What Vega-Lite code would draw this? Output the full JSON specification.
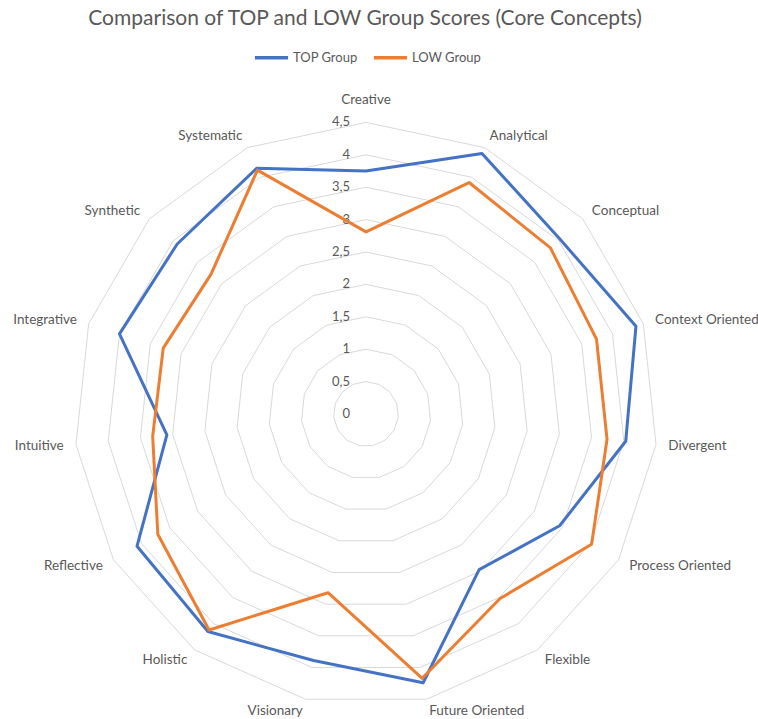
{
  "$schema": "https://vega.github.io/schema/vega-lite/v6.json",
  "width": 758,
  "height": 719,
  "autosize": "none",
  "padding": 0,
  "background": "white",
  "title": {
    "text": "Comparison of TOP and LOW Group Scores (Core Concepts)",
    "orient": "top",
    "anchor": "middle",
    "frame": "group",
    "offset": -29,
    "dx": -14,
    "font": "Lato",
    "fontSize": 21,
    "fontWeight": "normal",
    "color": "#595959"
  },
  "data": {
    "values": [
      {"concept": "Creative", "TOP Group": 3.75, "LOW Group": 2.81},
      {"concept": "Analytical", "TOP Group": 4.40, "LOW Group": 3.91},
      {"concept": "Conceptual", "TOP Group": 4.03, "LOW Group": 3.83},
      {"concept": "Context Oriented", "TOP Group": 4.38, "LOW Group": 3.74},
      {"concept": "Divergent", "TOP Group": 4.03, "LOW Group": 3.74},
      {"concept": "Process Oriented", "TOP Group": 3.45, "LOW Group": 4.02},
      {"concept": "Flexible", "TOP Group": 2.97, "LOW Group": 3.52},
      {"concept": "Future Oriented", "TOP Group": 4.24, "LOW Group": 4.17},
      {"concept": "Visionary", "TOP Group": 3.89, "LOW Group": 2.82},
      {"concept": "Holistic", "TOP Group": 4.15, "LOW Group": 4.12},
      {"concept": "Reflective", "TOP Group": 4.08, "LOW Group": 3.71},
      {"concept": "Intuitive", "TOP Group": 3.09, "LOW Group": 3.31},
      {"concept": "Integrative", "TOP Group": 4.00, "LOW Group": 3.29},
      {"concept": "Synthetic", "TOP Group": 3.92, "LOW Group": 3.22},
      {"concept": "Systematic", "TOP Group": 4.15, "LOW Group": 4.12}
    ]
  },
  "transform": [
    {"window": [{"op": "row_number", "as": "idx"}]},
    {"calculate": "(datum.idx - 1) * 2 * PI / 15", "as": "angle"}
  ],
  "layer": [
    {
      "transform": [
        {"calculate": "[0.5, 1, 1.5, 2, 2.5, 3, 3.5, 4, 4.5]", "as": "ring"},
        {"flatten": ["ring"]},
        {"calculate": "datum.ring * sin(datum.angle)", "as": "px"},
        {"calculate": "datum.ring * cos(datum.angle)", "as": "py"}
      ],
      "mark": {"type": "line", "interpolate": "linear-closed", "stroke": "#D9D9D9", "strokeWidth": 1},
      "encoding": {
        "x": {"field": "px", "type": "quantitative", "scale": {"domain": [-5.648, 6.049], "nice": false, "zero": false}, "axis": null},
        "y": {"field": "py", "type": "quantitative", "scale": {"domain": [-4.707, 6.389], "nice": false, "zero": false}, "axis": null},
        "detail": {"field": "ring", "type": "nominal"},
        "order": {"field": "idx", "type": "quantitative"}
      }
    },
    {
      "transform": [
        {"filter": "datum.idx == 1"},
        {"calculate": "[0, 0.5, 1, 1.5, 2, 2.5, 3, 3.5, 4, 4.5]", "as": "ring"},
        {"flatten": ["ring"]},
        {"calculate": "replace(toString(datum.ring), '.', ',')", "as": "lab"}
      ],
      "mark": {"type": "text", "align": "right", "baseline": "middle", "dx": -16, "font": "Lato", "fontSize": 13, "color": "#595959"},
      "encoding": {
        "x": {"datum": 0, "type": "quantitative"},
        "y": {"field": "ring", "type": "quantitative"},
        "text": {"field": "lab"}
      }
    },
    {
      "transform": [
        {"fold": ["TOP Group", "LOW Group"], "as": ["series", "score"]},
        {"calculate": "datum.score * sin(datum.angle)", "as": "px"},
        {"calculate": "datum.score * cos(datum.angle)", "as": "py"}
      ],
      "mark": {"type": "line", "interpolate": "linear-closed", "strokeWidth": 3, "strokeJoin": "round"},
      "encoding": {
        "x": {"field": "px", "type": "quantitative"},
        "y": {"field": "py", "type": "quantitative"},
        "order": {"field": "idx", "type": "quantitative"},
        "color": {
          "field": "series",
          "type": "nominal",
          "scale": {"domain": ["TOP Group", "LOW Group"], "range": ["#4472C4", "#ED7D31"]},
          "legend": {
            "orient": "none",
            "legendX": 253,
            "legendY": 39,
            "direction": "horizontal",
            "title": null,
            "symbolType": "stroke",
            "symbolStrokeWidth": 3.5,
            "symbolSize": 1100,
            "labelFont": "Lato",
            "labelFontSize": 13,
            "labelColor": "#595959",
            "labelOffset": 3,
            "columnPadding": 8
          }
        }
      }
    },
    {
      "transform": [
        {"filter": "datum.idx > 1 && datum.idx <= 8"},
        {"calculate": "4.69 * sin(datum.angle)", "as": "lx"},
        {"calculate": "4.69 * cos(datum.angle)", "as": "ly"}
      ],
      "mark": {"type": "text", "align": "left", "baseline": "middle", "font": "Lato", "fontSize": 13.5, "color": "#595959"},
      "encoding": {
        "x": {"field": "lx", "type": "quantitative"},
        "y": {"field": "ly", "type": "quantitative"},
        "text": {"field": "concept"}
      }
    },
    {
      "transform": [
        {"filter": "datum.idx > 8"},
        {"calculate": "4.69 * sin(datum.angle)", "as": "lx"},
        {"calculate": "4.69 * cos(datum.angle)", "as": "ly"}
      ],
      "mark": {"type": "text", "align": "right", "baseline": "middle", "font": "Lato", "fontSize": 13.5, "color": "#595959"},
      "encoding": {
        "x": {"field": "lx", "type": "quantitative"},
        "y": {"field": "ly", "type": "quantitative"},
        "text": {"field": "concept"}
      }
    },
    {
      "transform": [
        {"filter": "datum.idx == 1"},
        {"calculate": "4.69 * cos(datum.angle)", "as": "ly"}
      ],
      "mark": {"type": "text", "align": "center", "baseline": "middle", "dy": -10, "font": "Lato", "fontSize": 13.5, "color": "#595959"},
      "encoding": {
        "x": {"datum": 0, "type": "quantitative"},
        "y": {"field": "ly", "type": "quantitative"},
        "text": {"field": "concept"}
      }
    }
  ],
  "config": {"view": {"stroke": null}}
}
